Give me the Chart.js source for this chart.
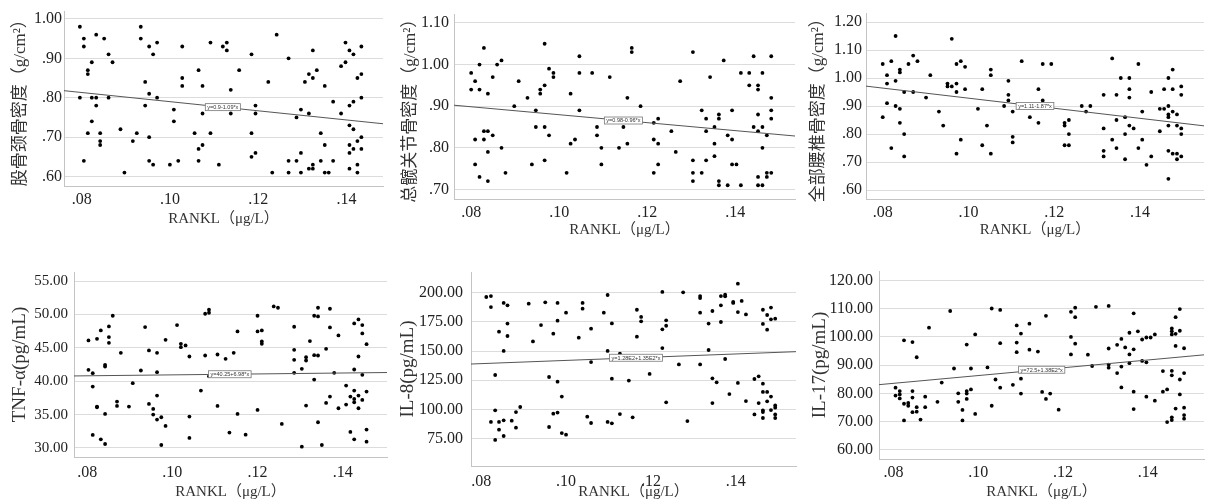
<!DOCTYPE html>
<html lang="zh">
<head>
<meta charset="UTF-8" />
<title>RANKL 相关散点图</title>
<script src="https://cdn.jsdelivr.net/npm/chart.js"></script>
<style>
  html, body { margin: 0; padding: 0; background: #fff; }
  body { width: 1217px; height: 502px; position: relative; overflow: hidden; }
  .panel { position: absolute; }
</style>
</head>
<body>
<div class="panel" id="p1"><canvas id="c1"></canvas></div>
<div class="panel" id="p2"><canvas id="c2"></canvas></div>
<div class="panel" id="p3"><canvas id="c3"></canvas></div>
<div class="panel" id="p4"><canvas id="c4"></canvas></div>
<div class="panel" id="p5"><canvas id="c5"></canvas></div>
<div class="panel" id="p6"><canvas id="c6"></canvas></div>

<script>
// ---- data ----
const xTitle = "RANKL（μg/L）";
const xTicks = [0.08, 0.10, 0.12, 0.14];
const xTickLabels = [".08", ".10", ".12", ".14"];

// 股骨颈骨密度
const neckX = [
  .0796,.0796, .0805,.0805,.0805, .0814,.0814,.0814, .0823,.0823,.0823, .0833,.0833,.0833,
  .0842,.0842,.0842, .0851, .0861,.0861, .0870, .0888, .0897, .0916, .0925, .0934,.0934,
  .0944,.0944, .0953,.0953,.0953,.0953, .0962,.0962, .0971,.0971, .1000, .1009,.1009, .1019,
  .1028,.1028,.1028, .1056, .1065,.1065,.1065, .1074,.1074,.1074, .1092,.1092, .1111, .1120,
  .1129,.1129, .1138,.1138, .1157, .1185,.1185,.1185, .1194,.1194,.1194, .1223, .1232, .1242,
  .1269,.1269,.1269, .1287,.1287, .1297,.1297,.1297, .1306, .1315,.1315,.1315,
  .1324,.1324,.1324,.1324, .1333, .1342,.1342, .1351,.1351,.1351, .1360, .1370,.1370,
  .1388,.1388, .1398,.1398, .1407,.1407,.1407,.1407,.1407,.1407, .1416,.1416,.1416,.1416,
  .1425,.1425,.1425,.1425, .1434,.1434,.1434,.1434,.1434
];
const neckY = [
  .98,.80, .95,.93,.64, .87,.86,.71, .89,.80,.74, .96,.80,.78,
  .71,.69,.68, .95, .91,.80, .89, .72, .61, .69, .71, .98,.95,
  .84,.78, .93,.81,.70,.64, .91,.63, .94,.80, .63, .77,.74, .64,
  .93,.85,.83, .71, .87,.67,.64, .83,.76,.68, .94,.71, .63, .93,
  .94,.92, .82,.76, .87, .91,.71,.65, .78,.76,.66, .84, .61, .96,
  .90,.64,.61, .75,.64, .77,.66,.61, .84, .86,.76,.62,
  .92,.85,.63,.62, .87, .64,.71, .83,.68,.61, .61, .79,.64,
  .88,.76, .89,.94, .92,.78,.73,.68,.66,.62, .72,.91,.79,.67,
  .85,.69,.63,.61, .93,.86,.80,.70,.67
];

// 总髋关节骨密度
const hipX = [
  .0800,.0800, .0809,.0809,.0809, .0819,.0819,.0819, .0829,.0829,.0829, .0838,.0838,.0838,.0838,
  .0849,.0849, .0859, .0869,.0869, .0878, .0898, .0908, .0928, .0938, .0947,.0947, .0957,.0957,
  .0967,.0967,.0967,.0967, .0977,.0977, .0987,.0987, .1017, .1026,.1026, .1036, .1046,.1046,.1046,
  .1075, .1086,.1086, .1096,.1096, .1115, .1136, .1146, .1155,.1155, .1165,.1165, .1185,
  .1215,.1215,.1215, .1225,.1225,.1225, .1255, .1265, .1275, .1304,.1304,.1304,.1304,
  .1324,.1324, .1334,.1334,.1334, .1343, .1353,.1353,.1353, .1363,.1363,.1363,.1363, .1374,
  .1383,.1383, .1393,.1393,.1393, .1403, .1413,.1413, .1432,.1432, .1442,.1442,
  .1452,.1452,.1452,.1452,.1452,.1452, .1462,.1462,.1462,.1462, .1472,.1472,.1472,
  .1482,.1482,.1482,.1482,.1482
];
const hipY = [
  .98,.94, .96,.82,.76, 1.00,.94,.73, 1.04,.84,.82, .84,.93,.79,.72,
  .97,.83, 1.00, 1.01,.80, .74, .90, .96, .92, .76, .89,.85, .94,.93,
  1.05,.95,.85,.77, .99,.83, .98,.97, .74, .93,.81, .82, 1.02,.98,.89,
  .98, .85,.83, .80,.76, .97, .80, .85, .92,.81, 1.04,1.03, .90,
  .86,.82,.74, .87,.81,.76, .84, .79, .96, 1.03,.77,.74,.72,
  .89,.74, .87,.84,.77, .97, .85,.81,.78, .88,.87,.72,.71, 1.01,
  .83,.71, .89,.82,.76, .76, .98,.71, .98,.95, 1.02,.85,
  .95,.94,.88,.84,.73,.71, .98,.85,.80,.71, .83,.73,.74,
  1.02,.92,.89,.87,.74
];

// 全部腰椎骨密度
const spineX = [
  .0800,.0800, .0810,.0810,.0810, .0820,.0820, .0830,.0830,.0830, .0840,.0840,.0840,.0840,
  .0850,.0850,.0850, .0860, .0871,.0871, .0881, .0901, .0911, .0931, .0941, .0951,.0951,
  .0961,.0961, .0972,.0972,.0972,.0972, .0982,.0982, .0992,.0992, .1022, .1032,.1032, .1043,
  .1052,.1052,.1052, .1083, .1093,.1093,.1093, .1103,.1103,.1103, .1124, .1143, .1163,.1163,
  .1173,.1173, .1193, .1224,.1224,.1224, .1234,.1234,.1234, .1264, .1274, .1284,
  .1315,.1315,.1315,.1315, .1335,.1335, .1345,.1345,.1345, .1355, .1365,.1365,.1365,
  .1375,.1375,.1375,.1375, .1385, .1396,.1396, .1405,.1405, .1415, .1426,.1426, .1446,.1446,
  .1456,.1456, .1466,.1466,.1466,.1466,.1466,.1466,.1466, .1476,.1476,.1476,.1476,
  .1486,.1486,.1486,.1486, .1496,.1496,.1496,.1496,.1496
];
const spineY = [
  1.05,.86, 1.01,.98,.91, 1.06,.75, 1.15,.99,.90, 1.03,1.02,.89,.84,
  .95,.80,.72, 1.05, 1.08,.95, 1.06, .93, 1.01, .88, .83, .98,.97,
  1.14,.97, 1.05,.98,.95,.73, 1.06,.78, 1.04,.96, .89, .96,.76, .83,
  1.03,1.01,.73, .90, .99,.94,.92, .88,.79,.77, 1.06, .86, .96,.84,
  1.05,.92, 1.05, .84,.83,.76, .85,.80,.76, .90, .88, .90,
  .94,.82,.74,.72, 1.07,.78, .94,.85,.75, 1.00, .86,.80,.71,
  1.00,.96,.93,.83, .82, 1.05,.75, .88,.78, .69, .95,.72, .81,.89,
  .96,.89, 1.00,.90,.87,.86,.83,.74,.64, 1.03,.96,.88,.73,
  .87,.83,.73,.71, .97,.94,.82,.80,.72
];

// TNF-α
const tnfX = [
  .0803,.0803, .0813,.0813,.0813, .0823,.0823,.0823, .0832,.0832, .0842,.0842,.0842,.0842,
  .0851,.0851,.0851, .0860, .0870,.0870, .0879, .0898, .0907, .0926, .0936, .0945,.0945,
  .0955,.0955, .0964,.0964,.0964,.0964, .0974,.0974, .0984,.0984, .1011, .1020,.1020, .1031,
  .1040,.1040,.1040, .1067, .1077,.1077, .1086,.1086,.1086, .1106,.1106, .1125, .1134, .1144,
  .1153,.1153, .1172, .1200,.1200,.1200, .1210,.1210,.1210, .1238, .1248, .1257,
  .1286,.1286,.1286,.1286, .1304,.1304, .1314,.1314,.1314, .1323, .1333,.1333,.1333,
  .1342,.1342,.1342,.1342, .1351, .1361,.1361, .1370,.1370,.1370, .1380, .1390,.1390,
  .1408,.1408, .1418,.1418, .1427,.1427,.1427,.1427,.1427,.1427, .1437,.1437,.1437,.1437,
  .1446,.1446,.1446,.1446, .1456,.1456,.1456,.1456
];
const tnfY = [
  46.1,41.7, 41.2,39.2,31.95, 46.35,36.2,36.1, 47.6,31.3, 35.1,30.6,42.45,42.2,
  48.2,46.6,45.75, 49.8, 36.95,36.3, 44.25, 36.2, 39.7, 41.6, 48.1, 36.6,44.6,
  35.85,35.0, 44.25,41.35,37.85,34.25, 34.6,30.45, 46.2,33.3, 48.4, 45.6,45.1, 45.35,
  43.7,34.7,31.5, 38.6, 50.1,43.85, 50.25,50.7,40.75, 44.0,36.3, 43.35, 32.3, 44.25,
  47.45,35.1, 32.0, 49.8,35.7,47.45, 47.6,45.95,45.6, 51.2, 51.0, 33.6,
  48.15,44.7,43.2,41.25, 41.85,30.2, 43.6,43.1,36.35, 46.0, 49.8,43.9,40.25,
  51.0,49.7,43.85,33.85, 30.45, 44.85,36.75, 50.85,48.05,37.7, 41.25, 46.85,35.95,
  36.5,39.35, 32.4,37.7, 48.65,41.75,38.6,37.35,36.85,31.3, 49.25,43.7,37.85,35.95,
  48.4,47.15,40.95,37.2, 45.55,38.45,32.75,30.95
];

// IL-8
const il8X = [
  .0812, .0823,.0823,.0823, .0833,.0833,.0833, .0842,.0842,.0842, .0853,.0853,.0853,.0853,
  .0862,.0862,.0862, .0872, .0882,.0882, .0892, .0912, .0922, .0941, .0951, .0960,.0960,
  .0970,.0970, .0980,.0980,.0980,.0980, .0990,.0990, .1000,.1000, .1030, .1039,.1039, .1050,
  .1059,.1059,.1059, .1089, .1098,.1098,.1098, .1108,.1108,.1108, .1127,.1127, .1148, .1157,
  .1167,.1167, .1177,.1177, .1197, .1227,.1227,.1227, .1236,.1236,.1236, .1266, .1276, .1286,
  .1316,.1316,.1316,.1316, .1336,.1336, .1345,.1345,.1345, .1355, .1365,.1365,.1365,
  .1375,.1375,.1375, .1385, .1394,.1394, .1405,.1405,.1405, .1414, .1424,.1424, .1444,.1444,
  .1454,.1454, .1464,.1464,.1464,.1464,.1464,.1464,.1464, .1474,.1474,.1474,.1474,
  .1483,.1483,.1483,.1483, .1493,.1493,.1493,.1493,.1493
];
const il8Y = [
  196.3, 197.1,187.7,89.3, 129.5,99.3,73.9, 166.6,89.3,82.7, 191.2,150.1,90.7,77.3,
  189.2,173.5,162.9, 90.4, 97.8,84.4, 102.1, 190.6, 158.3, 172.3, 191.7, 127.8,85.0,
  164.9,96.4, 191.2,176.0,123.8,97.3, 111.0,79.8, 78.4,182.9, 161.5, 191.2,186.3, 93.8,
  169.2,140.6,88.4, 182.9, 198.0,150.1,89.3, 173.7,126.4,88.1, 147.8,96.1, 124.7, 93.3,
  185.4,162.3, 179.2,175.5, 130.4, 200.6,168.6,152.6, 176.3,171.7,106.1, 138.6, 200.3, 90.1,
  197.1,195.4,182.9,138.6, 173.5,150.9, 184.3,126.7,105.5, 123.2, 197.1,189.2,174.9,
  198.3,196.9,143.2, 113.2, 192.0,191.2, 207.7,183.4,122.7, 192.9, 181.4,107.2, 126.1,95.8,
  128.4,105.5, 185.4,173.2,122.1,115.0,99.3,97.8,92.7, 180.9,168.3,115.0,107.0,
  187.2,177.2,111.0,99.5, 177.7,103.5,101.5,95.8,92.7
];

// IL-17
const il17X = [
  .0805,.0805, .0815,.0815,.0815, .0825,.0825,.0825, .0835,.0835, .0845,.0845,.0845,.0845,
  .0855,.0855,.0855, .0864, .0875,.0875, .0884, .0904, .0914, .0934, .0943, .0953,.0953,
  .0963,.0963, .0973,.0973,.0973,.0973, .0983,.0983, .0993,.0993, .1022, .1032,.1032, .1041,
  .1052,.1052,.1052, .1082, .1091,.1091,.1091, .1101,.1101,.1101, .1121,.1121, .1141, .1151,
  .1160,.1160, .1170, .1190, .1219,.1219,.1219, .1229,.1229,.1229, .1259, .1269, .1278,
  .1308,.1308,.1308,.1308, .1328,.1328, .1338,.1338,.1338, .1347, .1357,.1357,.1357,
  .1367,.1367,.1367,.1367, .1377, .1387,.1387, .1397,.1397,.1397, .1407, .1417,.1417,
  .1436,.1436, .1446,.1446, .1457,.1457,.1457,.1457,.1457,.1457,.1457,
  .1466,.1466,.1466,.1466, .1476,.1476,.1476,.1476, .1486,.1486,.1486,.1486,.1486
];
const il17Y = [
  82.0,79.2, 80.8,79.6,78.2, 98.8,76.3,70.4, 76.6,75.6, 98.2,80.8,78.5,73.3,
  92.8,75.1,73.5, 70.7, 78.8,75.1, 103.3, 77.0, 83.8, 109.2, 88.8, 80.0,77.0,
  74.1,70.4, 97.3,80.8,79.9,78.0, 88.8,81.4, 72.7,100.9, 89.2, 110.1,75.6, 84.9,
  109.6,97.8,82.0, 83.0, 104.1,98.0,94.6, 101.2,85.2,79.9, 104.7,95.5, 94.8, 80.5,
  107.5,78.0, 79.9, 74.2, 108.9,100.0,93.8, 110.4,107.0,97.6, 93.7, 89.7, 110.7,
  111.0,95.9,90.2,89.1, 97.2,87.2, 99.3,89.5,82.1, 96.3, 101.5,93.8,90.7,
  108.4,95.6,80.6,74.4, 102.0, 99.1,91.5, 99.8,91.0,78.8, 99.8, 100.9,77.4,
  87.9,80.6, 81.4,69.8, 103.0,102.0,100.9,88.0,86.4,71.5,70.5,
  107.0,101.1,96.8,74.6, 109.9,102.2,84.9,79.6, 96.0,87.2,74.9,72.3,71.0
];

// y titles, y ticks, fitted lines (intercept, slope) and equation labels
const yTitles = ["股骨颈骨密度（g/cm²）", "总髋关节骨密度（g/cm²）", "全部腰椎骨密度（g/cm²）",
                 "TNF-α(pg/mL)", "IL-8(pg/mL)", "IL-17(pg/mL)"];
const yTicks1 = [0.6, 0.7, 0.8, 0.9, 1.0];
const yTickLabels1 = [".60", ".70", ".80", ".90", "1.00"];
const yTicks2 = [0.7, 0.8, 0.9, 1.0, 1.1];
const yTickLabels2 = [".70", ".80", ".90", "1.00", "1.10"];
const yTicks3 = [0.6, 0.7, 0.8, 0.9, 1.0, 1.1, 1.2];
const yTickLabels3 = [".60", ".70", ".80", ".90", "1.00", "1.10", "1.20"];
const yTicks4 = [30, 35, 40, 45, 50, 55];
const yTickLabels4 = ["30.00", "35.00", "40.00", "45.00", "50.00", "55.00"];
const yTicks5 = [75, 100, 125, 150, 175, 200];
const yTickLabels5 = ["75.00", "100.00", "125.00", "150.00", "175.00", "200.00"];
const yTicks6 = [60, 70, 80, 90, 100, 110, 120];
const yTickLabels6 = ["60.00", "70.00", "80.00", "90.00", "100.00", "110.00", "120.00"];
const fitIntercepts = [0.906, 0.975, 1.108, 40.25, 128.2, 72.5];
const fitSlopes = [-1.16, -0.955, -1.80, 6.98, 138, 138];
const equations = ["y=0.9-1.09*x", "y=0.98-0.96*x", "y=1.11-1.87*x",
                   "y=40.25+6.98*x", "y=1.28E2+1.35E2*x", "y=72.5+1.38E2*x"];

// ---- layout (positions / styles) ----
const serif = "'Liberation Serif', 'Times New Roman', 'Noto Sans CJK SC', serif";
const layouts = [
  { l: 0, t: 0, w: 395, h: 240, padTop: 10, padRight: 12, yW: 64, xH: 54,
    xMin: .076, xMax: .1483, yMin: .576, yMax: 1.0185,
    yTickPad: 2, xTickPad: 4, xTitlePad: 12, yTitlePad: 10,
    yTickSize: 16, yTitleSize: 17, xTitleSize: 15, eqAt: .112 },
  { l: 400, t: 0, w: 405, h: 245, padTop: 13, padRight: 10, yW: 54, xH: 46,
    xMin: .0761, xMax: .1536, yMin: .677, yMax: 1.12,
    yTickPad: 5, xTickPad: 4, xTitlePad: 6, yTitlePad: 0,
    yTickSize: 16, yTitleSize: 17, xTitleSize: 15, eqAt: .1146 },
  { l: 805, t: 0, w: 412, h: 245, padTop: 13, padRight: 13, yW: 61, xH: 46,
    xMin: .0761, xMax: .1549, yMin: .568, yMax: 1.23,
    yTickPad: 4, xTickPad: 4, xTitlePad: 6, yTitlePad: 3,
    yTickSize: 16, yTitleSize: 17, xTitleSize: 15, eqAt: .1155 },
  { l: 0, t: 250, w: 395, h: 252, padTop: 22, padRight: 8, yW: 74, xH: 45,
    xMin: .0769, xMax: .1504, yMin: 28.65, yMax: 56.35,
    yTickPad: 6, xTickPad: 6, xTitlePad: 1, yTitlePad: 9,
    yTickSize: 15, yTitleSize: 19, xTitleSize: 15, eqAt: .1135 },
  { l: 400, t: 250, w: 405, h: 252, padTop: 22, padRight: 9, yW: 71, xH: 36,
    xMin: .0776, xMax: .1542, yMin: 51.6, yMax: 217.7,
    yTickPad: 8, xTickPad: 6, xTitlePad: 1, yTitlePad: -3,
    yTickSize: 16, yTitleSize: 19, xTitleSize: 15, eqAt: .1165 },
  { l: 805, t: 250, w: 412, h: 252, padTop: 21, padRight: 13, yW: 74, xH: 43,
    xMin: .0766, xMax: .1533, yMin: 56.7, yMax: 123.4,
    yTickPad: 6, xTickPad: 4, xTitlePad: 1, yTitlePad: 4,
    yTickSize: 16, yTitleSize: 19, xTitleSize: 15, eqAt: .1150 }
];

// equation box drawn on the fitted line
const eqPlugin = {
  id: "eqLabel",
  afterDatasetsDraw(chart, args, opts) {
    const { ctx } = chart;
    const xs = chart.scales.x, ys = chart.scales.y;
    const px = xs.getPixelForValue(opts.at);
    const py = ys.getPixelForValue(opts.a + opts.b * opts.at);
    ctx.save();
    ctx.font = "5.5px Arial, 'Liberation Sans', sans-serif";
    const w = ctx.measureText(opts.text).width + 4;
    const h = 7;
    ctx.fillStyle = "#fff";
    ctx.fillRect(px - w / 2, py - h / 2, w, h);
    ctx.strokeStyle = "#777";
    ctx.lineWidth = 0.8;
    ctx.strokeRect(px - w / 2, py - h / 2, w, h);
    ctx.fillStyle = "#333";
    ctx.textAlign = "center";
    ctx.textBaseline = "middle";
    ctx.fillText(opts.text, px, py + 0.3);
    ctx.restore();
  }
};

function makeChart(i, xs, ys, yTicks, yTickLabels) {
  const L = layouts[i];
  const box = document.getElementById("p" + (i + 1));
  box.style.left = L.l + "px";
  box.style.top = L.t + "px";
  box.style.width = L.w + "px";
  box.style.height = L.h + "px";

  const a = fitIntercepts[i], b = fitSlopes[i];
  const points = xs.map((x, k) => ({ x: x, y: ys[k] }));

  return new Chart(document.getElementById("c" + (i + 1)), {
    type: "scatter",
    data: {
      datasets: [
        {
          type: "line",
          data: [{ x: L.xMin, y: a + b * L.xMin }, { x: L.xMax, y: a + b * L.xMax }],
          borderColor: "#555",
          borderWidth: 1,
          pointRadius: 0,
          fill: false
        },
        {
          data: points,
          backgroundColor: "#000",
          borderWidth: 0,
          pointRadius: 1.9
        }
      ]
    },
    options: {
      responsive: true,
      maintainAspectRatio: false,
      animation: false,
      layout: { padding: { top: L.padTop, right: L.padRight, left: 0, bottom: 0 } },
      plugins: {
        legend: { display: false },
        tooltip: { enabled: false },
        eqLabel: { at: L.eqAt, a: a, b: b, text: equations[i] }
      },
      scales: {
        x: {
          type: "linear",
          min: L.xMin,
          max: L.xMax,
          afterBuildTicks: (s) => { s.ticks = xTicks.map((v) => ({ value: v })); },
          afterFit: (s) => { s.height = L.xH; },
          grid: { display: false, drawTicks: false },
          border: { display: true, color: "#c4c4c4", width: 1 },
          ticks: {
            autoSkip: false, maxRotation: 0, padding: L.xTickPad, color: "#222",
            font: { family: serif, size: 16 },
            callback: (v, k) => xTickLabels[k]
          },
          title: {
            display: true, text: xTitle, color: "#333",
            padding: { top: 0, bottom: L.xTitlePad },
            font: { family: serif, size: L.xTitleSize }
          }
        },
        y: {
          type: "linear",
          min: L.yMin,
          max: L.yMax,
          afterBuildTicks: (s) => { s.ticks = yTicks.map((v) => ({ value: v })); },
          afterFit: (s) => { s.width = L.yW; },
          grid: { display: true, color: "#dcdcdc", lineWidth: 1, drawTicks: false },
          border: { display: true, color: "#c4c4c4", width: 1 },
          ticks: {
            autoSkip: false, padding: L.yTickPad, color: "#222",
            font: { family: serif, size: L.yTickSize },
            callback: (v, k) => yTickLabels[k]
          },
          title: {
            display: true, text: yTitles[i], color: "#333",
            padding: { top: L.yTitlePad, bottom: 0 },
            font: { family: serif, size: L.yTitleSize }
          }
        }
      }
    },
    plugins: [eqPlugin]
  });
}

makeChart(0, neckX, neckY, yTicks1, yTickLabels1);
makeChart(1, hipX, hipY, yTicks2, yTickLabels2);
makeChart(2, spineX, spineY, yTicks3, yTickLabels3);
makeChart(3, tnfX, tnfY, yTicks4, yTickLabels4);
makeChart(4, il8X, il8Y, yTicks5, yTickLabels5);
makeChart(5, il17X, il17Y, yTicks6, yTickLabels6);
</script>
</body>
</html>
